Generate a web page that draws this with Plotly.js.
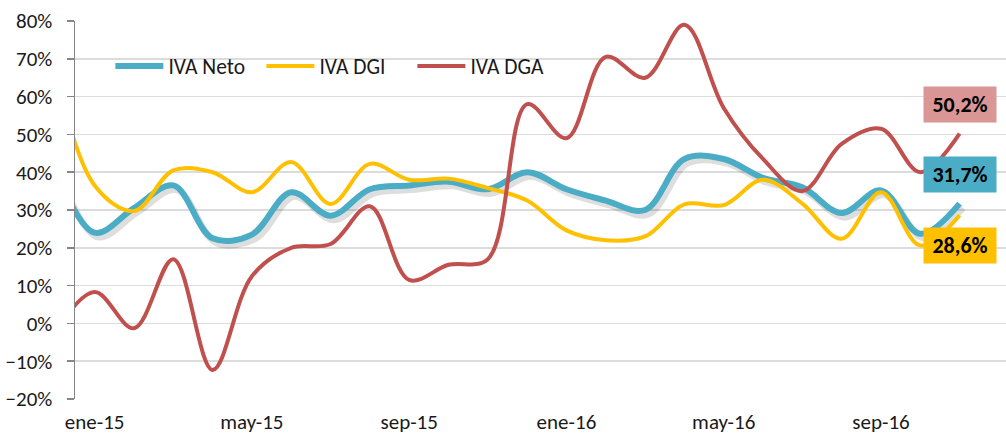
<!DOCTYPE html>
<html>
<head>
<meta charset="utf-8">
<script src="https://cdn.plot.ly/plotly-3.0.1.min.js"></script>
<style>html,body{margin:0;padding:0;background:#fff;}#chart{width:1006px;height:437px;}</style>
</head>
<body>
<div id="chart"></div>
<script>
// Monthly periods (first one only partly visible at the left edge)
const months = ['dic-14','ene-15','feb-15','mar-15','abr-15','may-15','jun-15','jul-15','ago-15','sep-15','oct-15','nov-15',
                'dic-15','ene-16','feb-16','mar-16','abr-16','may-16','jun-16','jul-16','ago-16','sep-16','oct-16','nov-16'];
const tickLabels = ['ene-15','may-15','sep-15','ene-16','may-16','sep-16'];

// Year-on-year growth, %
const ivaNeto = [41, 24, 30.5, 36.5, 22.5, 23.5, 34.7, 28.5, 35.5, 36.5, 37.5, 35.5,
                 40, 35.5, 32.5, 30, 43.5, 43.5, 38.5, 36, 29.2, 35.2, 23.7, 31.7];
const ivaDGI  = [67, 36.5, 29.7, 40.5, 40, 34.7, 42.7, 31.6, 42.2, 38, 38.3, 35.8,
                 32.5, 24.6, 22, 23, 31.5, 31.3, 38, 31.7, 22.4, 34.7, 20.6, 28.6];
const ivaDGA  = [-2, 8.3, -1.3, 17, -12.3, 12.5, 20, 21, 31, 11.5, 15.5, 17,
                 58, 49, 70.5, 65, 79, 57, 43.5, 35, 47.5, 51.5, 40, 50.2];

const seriesNames = ['IVA Neto','IVA DGI','IVA DGA'];

const FONT = 'Calibri, Carlito, "Liberation Sans", Arial, sans-serif';
const xIdx = months.map((m, i) => i);
const tickIdx = tickLabels.map(t => months.indexOf(t));
const boundaryIdx = tickIdx.map(i => i - 0.5);

const styles = [
  {color:'#4BACC6', width:6, box:'#4BACC6', yshift:29},
  {color:'#FFC000', width:4, box:'#FFC000', yshift:-30},
  {color:'#C0504D', width:4, box:'#D99694', yshift:29}
];
const values = [ivaNeto, ivaDGI, ivaDGA];

const traces = [];
// soft drop shadow under the IVA Neto line
traces.push({
  x: xIdx.map(v => v + 0.08), y: ivaNeto.map(v => v - 1.1),
  type:'scatter', mode:'lines', line:{shape:'spline', smoothing:1, color:'rgba(0,0,0,0.13)', width:7},
  showlegend:false, hoverinfo:'skip'
});
values.forEach((vals, k) => {
  traces.push({
    x: xIdx, y: vals, name: seriesNames[k], type:'scatter', mode:'lines',
    line:{shape:'spline', smoothing:1, color:styles[k].color, width:styles[k].width}
  });
});

const fmt = v => v.toFixed(1).replace('.', ',') + '%';
const annotations = values.map((vals, k) => ({
  x: xIdx[xIdx.length - 1], y: vals[vals.length - 1], xref:'x', yref:'y',
  text: '<b>' + fmt(vals[vals.length - 1]) + '</b>', showarrow:false,
  yshift: styles[k].yshift, xanchor:'center', yanchor:'middle',
  bgcolor: styles[k].box, width:70, height:33, borderpad:1,
  font:{family:FONT, size:22, color:'#000'}
}));

const layout = {
  width:1006, height:437,
  margin:{l:75, r:0, t:21, b:38},
  paper_bgcolor:'#fff', plot_bgcolor:'#fff',
  font:{family:FONT, size:21, color:'#1a1a1a'},
  showlegend:true,
  legend:{orientation:'h', x:0.038, y:0.881, xanchor:'left', yanchor:'middle',
          bgcolor:'rgba(0,0,0,0)', font:{family:FONT, size:21.5, color:'#1a1a1a'},
          itemwidth:48, entrywidth:88, entrywidthmode:'pixels'},
  xaxis:{
    range:[0.5, 24.18], showgrid:false, zeroline:false, showline:false,
    tickmode:'array', tickvals:tickIdx, ticktext:tickLabels, ticks:'',
    ticklabelstandoff:8, fixedrange:true
  },
  xaxis2:{
    matches:'x', overlaying:'x', anchor:'free', position:0.2, side:'bottom',
    showgrid:false, zeroline:false, showline:true, linecolor:'#868686', linewidth:1.5,
    tickmode:'array', tickvals:boundaryIdx, ticks:'outside', ticklen:6, tickcolor:'#868686', tickwidth:1.5,
    showticklabels:false
  },
  yaxis:{
    range:[-20, 80], dtick:10, tick0:0, ticksuffix:'%',
    showgrid:true, gridcolor:'#DCDCDC', gridwidth:1.5, zeroline:false,
    showline:true, linecolor:'#868686', linewidth:1.5,
    ticks:'outside', ticklen:7, tickcolor:'#868686', tickwidth:1.5,
    ticklabelstandoff:10, fixedrange:true
  },
  annotations: annotations
};

Plotly.newPlot('chart', traces, layout, {displayModeBar:false, staticPlot:true});
</script>
</body>
</html>
